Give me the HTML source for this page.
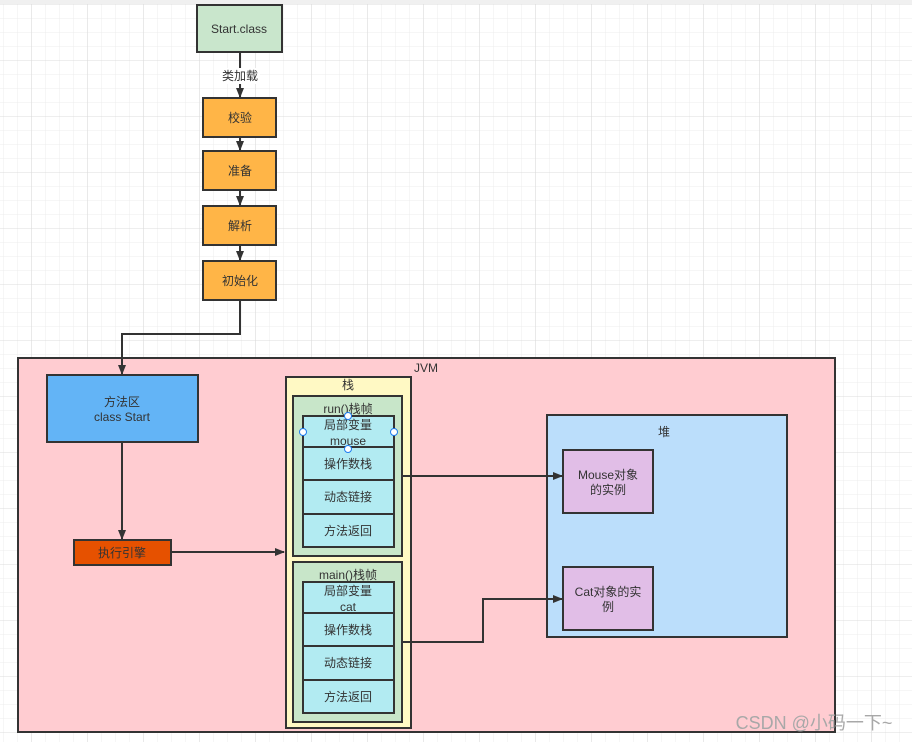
<!DOCTYPE html>
<html><head><meta charset="utf-8"><style>
html,body{margin:0;padding:0;background:#fff}
svg{display:block}
text{font-family:"Liberation Sans","Noto Sans CJK SC",sans-serif;font-size:12px;fill:#333;text-anchor:middle}
</style></head><body>
<svg width="912" height="742" xmlns="http://www.w3.org/2000/svg">
<defs>
<pattern id="g" x="3.3" y="4" width="14" height="14" patternUnits="userSpaceOnUse"><path d="M0 0H14M0 0V14" stroke="#ececec" stroke-width="1" fill="none"/></pattern>
<pattern id="G" x="31.3" y="4" width="56" height="56" patternUnits="userSpaceOnUse"><path d="M0 0H56M0 0V56" stroke="#dcdcdc" stroke-width="1" fill="none"/></pattern>
<marker id="a" markerWidth="10" markerHeight="10" refX="9" refY="5" orient="auto" markerUnits="userSpaceOnUse"><path d="M0 1L10 5L0 9Z" fill="#333"/></marker>
</defs>
<rect width="912" height="742" fill="#fff"/>
<rect width="912" height="742" fill="url(#g)"/>
<rect width="912" height="742" fill="url(#G)"/>
<rect width="912" height="4" fill="#f0f0f0"/>
<g stroke="#333" stroke-width="2">
<rect x="197" y="5" width="85" height="47" fill="#c9e6cc"/>
<line x1="240" y1="52" x2="240" y2="97" marker-end="url(#a)"/>
<rect x="203" y="98" width="73" height="39" fill="#ffb547"/>
<line x1="240" y1="137" x2="240" y2="150" marker-end="url(#a)"/>
<rect x="203" y="151" width="73" height="39" fill="#ffb547"/>
<line x1="240" y1="190" x2="240" y2="205" marker-end="url(#a)"/>
<rect x="203" y="206" width="73" height="39" fill="#ffb547"/>
<line x1="240" y1="245" x2="240" y2="260" marker-end="url(#a)"/>
<rect x="203" y="261" width="73" height="39" fill="#ffb547"/>
<rect x="18" y="358" width="817" height="374" fill="#ffccd1"/>
<polyline points="240,300 240,334 122,334 122,374" fill="none" marker-end="url(#a)"/>
<rect x="47" y="375" width="151" height="67" fill="#63b4f6"/>
<line x1="122" y1="442" x2="122" y2="539" marker-end="url(#a)"/>
<rect x="74" y="540" width="97" height="25" fill="#e65100"/>
<line x1="171" y1="552" x2="284" y2="552" marker-end="url(#a)"/>
<rect x="286" y="377" width="125" height="351" fill="#fff9c4"/>
<rect x="293" y="396" width="109" height="160" fill="#c8e6c9"/>
<rect x="303" y="416" width="91" height="131" fill="#b2ebf2"/>
<line x1="303" y1="447" x2="394" y2="447"/><line x1="303" y1="480" x2="394" y2="480"/><line x1="303" y1="514" x2="394" y2="514"/>
<rect x="293" y="562" width="109" height="160" fill="#c8e6c9"/>
<rect x="303" y="582" width="91" height="131" fill="#b2ebf2"/>
<line x1="303" y1="613" x2="394" y2="613"/><line x1="303" y1="646" x2="394" y2="646"/><line x1="303" y1="680" x2="394" y2="680"/>
<rect x="547" y="415" width="240" height="222" fill="#bbdefb"/>
<rect x="563" y="450" width="90" height="63" fill="#e1bee7"/>
<rect x="563" y="567" width="90" height="63" fill="#e1bee7"/>
<line x1="402" y1="476" x2="562" y2="476" marker-end="url(#a)"/>
<polyline points="402,642 483,642 483,599 562,599" fill="none" marker-end="url(#a)"/>
</g>
<rect x="220" y="68" width="40" height="16" fill="#fff"/>
<text x="240" y="80">类加载</text>
<text x="239" y="33">Start.class</text>
<text x="240" y="122">校验</text>
<text x="240" y="175">准备</text>
<text x="240" y="230">解析</text>
<text x="240" y="285">初始化</text>
<text x="426" y="372">JVM</text>
<text x="122" y="406">方法区</text>
<text x="122" y="421">class Start</text>
<text x="122" y="557">执行引擎</text>
<text x="348" y="389">栈</text>
<text x="348" y="413">run()栈帧</text>
<text x="348" y="429">局部变量</text>
<text x="348" y="445">mouse</text>
<text x="348" y="468">操作数栈</text>
<text x="348" y="501">动态链接</text>
<text x="348" y="535">方法返回</text>
<text x="348" y="579">main()栈帧</text>
<text x="348" y="595">局部变量</text>
<text x="348" y="611">cat</text>
<text x="348" y="634">操作数栈</text>
<text x="348" y="667">动态链接</text>
<text x="348" y="701">方法返回</text>
<text x="664" y="436">堆</text>
<text x="608" y="479">Mouse对象</text>
<text x="608" y="494">的实例</text>
<text x="608" y="596">Cat对象的实</text>
<text x="608" y="611">例</text>
<g fill="#fff" stroke="#1e7cf0" stroke-width="1">
<circle cx="348" cy="416" r="3.5"/><circle cx="348" cy="449" r="3.5"/><circle cx="303" cy="432" r="3.5"/><circle cx="394" cy="432" r="3.5"/>
</g>
<text x="814" y="729" style="font-size:18px;fill:#a8a8a8">CSDN @小码一下~</text>
</svg>
</body></html>
